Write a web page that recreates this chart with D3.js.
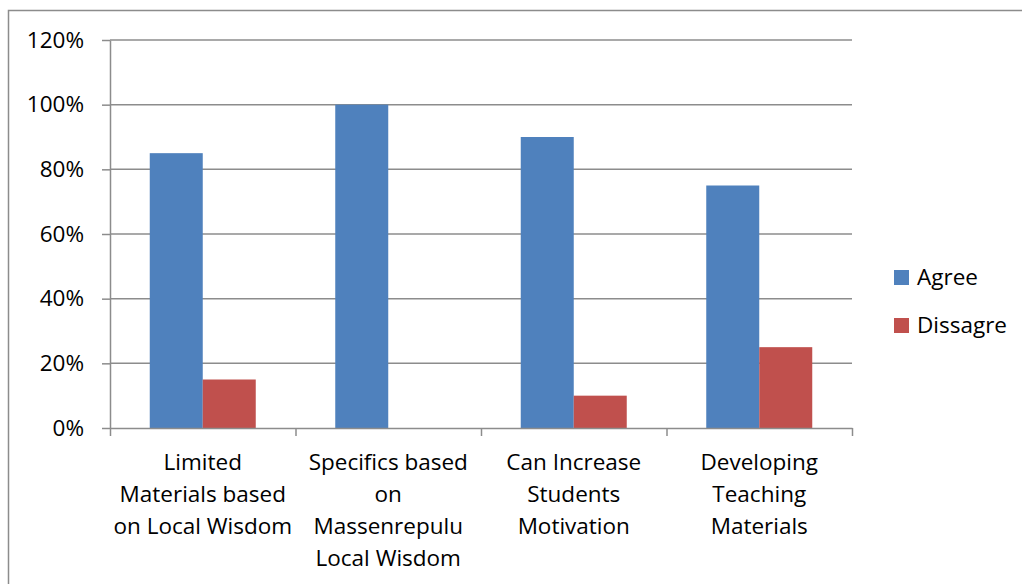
<!DOCTYPE html>
<html>
<head>
<meta charset="utf-8">
<script src="https://cdn.jsdelivr.net/npm/d3@7"></script>
<style>
  body { margin: 0; background: #fff; }
  svg text { font-family: "Open Sans", sans-serif; fill: #000; }
  .axis path, .axis line, .grid line { stroke: #8c8c8c; stroke-width: 1.5; }
</style>
</head>
<body>
<div class="chart"></div>
<script>
const categories = [
  ["Limited", "Materials based", "on Local Wisdom"],
  ["Specifics based", "on", "Massenrepulu", "Local Wisdom"],
  ["Can Increase", "Students", "Motivation"],
  ["Developing", "Teaching", "Materials"]
]
const seriesNames = ["Agree", "Dissagre"]
const agree = [0.85, 1.00, 0.90, 0.75]
const dissagre = [0.15, 0.00, 0.10, 0.25]
const yTicks = [0, 0.2, 0.4, 0.6, 0.8, 1.0, 1.2]
const colors = ["#4f81bd", "#c0504d"]

const width = 1022, height = 584
const margin = {top: 40, right: 170, bottom: 156, left: 110}
const fontSize = "22.5px"

let svg = d3.select(".chart").append("svg")
  .attr("width", width)
  .attr("height", height)

// outer chart border
svg.append("rect")
  .attr("x", 8.5).attr("y", 10.5)
  .attr("width", 1030).attr("height", 600)
  .attr("fill", "none")
  .attr("stroke", "#8c8c8c")
  .attr("stroke-width", 1.5)

const idx = d3.range(categories.length)

let x = d3.scaleBand().domain(idx).range([margin.left, width - margin.right])
  .paddingInner(0).paddingOuter(0)
let y = d3.scaleLinear().domain([0, 1.2]).range([height - margin.bottom, margin.top])

// bar positions inside each category: gap width 150%
let xs = d3.scaleBand().domain(seriesNames).range([0, x.bandwidth()])
  .paddingInner(0).paddingOuter(0.75)

// gridlines
svg.append("g").attr("class", "grid")
  .selectAll("line")
  .data(yTicks.slice(1))
  .join("line")
  .attr("x1", margin.left).attr("x2", width - margin.right)
  .attr("y1", d => y(d)).attr("y2", d => y(d))

const series = [agree, dissagre]
series.forEach((vals, s) => {
  svg.append("g")
    .selectAll("rect")
    .data(vals)
    .join("rect")
    .attr("x", (d, i) => x(i) + xs(seriesNames[s]))
    .attr("width", xs.bandwidth())
    .attr("y", d => y(d))
    .attr("height", d => y(0) - y(d))
    .attr("fill", colors[s])
})

// y axis
let yaxis = svg.append("g")
  .attr("class", "y axis")
  .attr("transform", "translate(" + margin.left + ",0)")
  .call(d3.axisLeft(y)
    .tickValues(yTicks)
    .tickFormat(d3.format(".0%"))
    .tickSizeInner(8)
    .tickSizeOuter(0)
    .tickPadding(18))
yaxis.selectAll("text").style("font-size", fontSize)

// x axis
let xaxis = svg.append("g")
  .attr("class", "x axis")
  .attr("transform", "translate(0," + y(0) + ")")
  .call(d3.axisBottom(d3.scaleLinear().domain([0, categories.length]).range([margin.left, width - margin.right]))
    .ticks(categories.length)
    .tickFormat("")
    .tickSizeInner(8)
    .tickSizeOuter(0))

svg.append("g")
  .selectAll("text")
  .data(categories)
  .join("text")
  .attr("text-anchor", "middle")
  .style("font-size", fontSize)
  .attr("transform", (d, i) => "translate(" + (x(i) + x.bandwidth() / 2) + "," + (y(0) + 42) + ")")
  .selectAll("tspan")
  .data(d => d)
  .join("tspan")
  .attr("x", 0)
  .attr("y", (d, i) => i * 32)
  .text(d => d)

// legend
let legend = svg.append("g")
  .selectAll("g")
  .data(seriesNames)
  .join("g")
  .attr("transform", (d, i) => "translate(894," + (270 + i * 48) + ")")

legend.append("rect")
  .attr("width", 15).attr("height", 15)
  .attr("fill", (d, i) => colors[i])

legend.append("text")
  .attr("x", 23).attr("y", 7.5)
  .attr("dy", "0.35em")
  .style("font-size", fontSize)
  .text(d => d)
</script>
</body>
</html>
